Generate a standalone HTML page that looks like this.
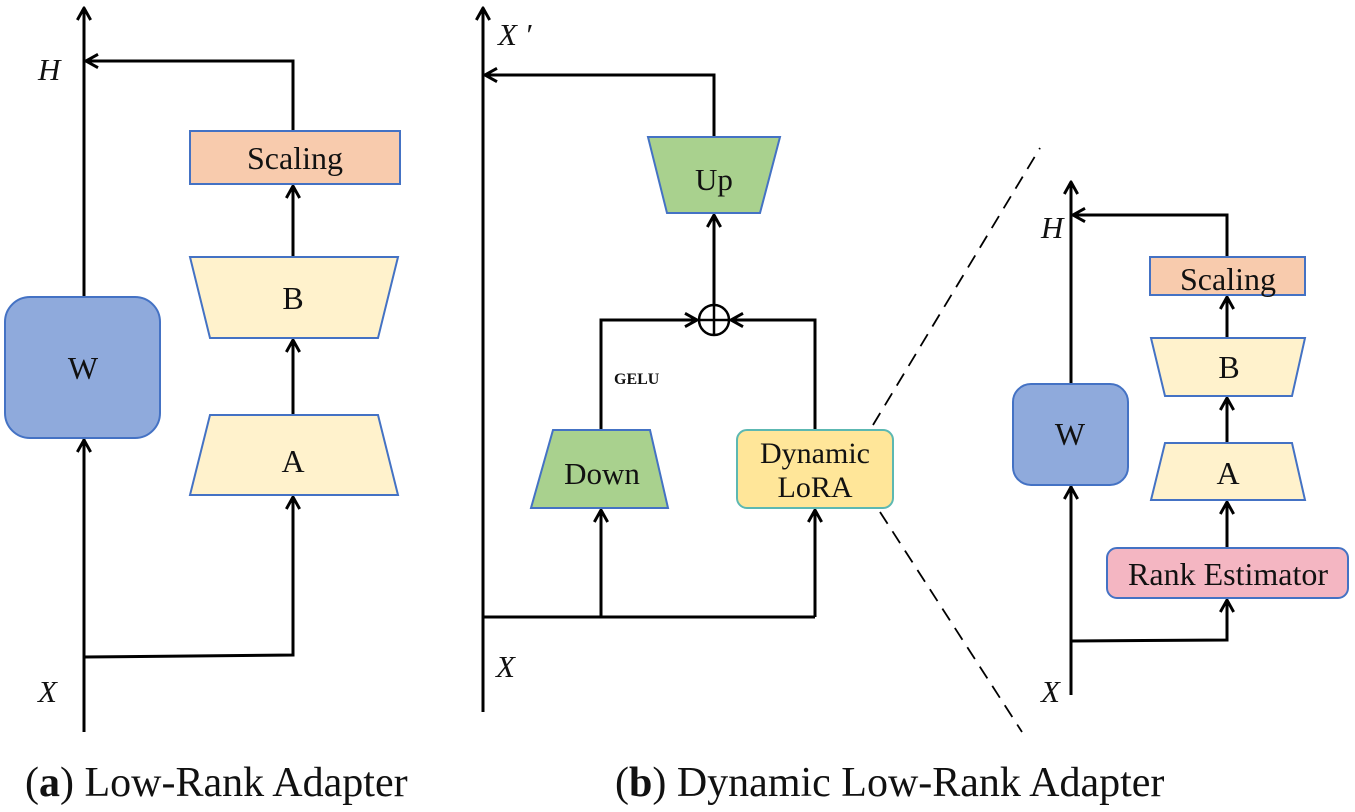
<!DOCTYPE html>
<html><head><style>body{margin:0;background:#fff}svg{display:block}</style></head><body>
<svg width="1355" height="812" viewBox="0 0 1355 812" xmlns="http://www.w3.org/2000/svg" font-family="Liberation Serif, serif">
<defs>
<marker id="a" viewBox="0 0 12 12" refX="11" refY="6" markerWidth="16" markerHeight="16" markerUnits="userSpaceOnUse" orient="auto">
<path d="M2,1 L11,6 L2,11" fill="none" stroke="#000" stroke-width="2.2"/>
</marker>
</defs>
<g stroke="#000" stroke-width="3" fill="none">
<line x1="84" y1="732" x2="84" y2="8" marker-end="url(#a)"/>
<polyline points="293,131 293,61 86,61" marker-end="url(#a)"/>
<line x1="293" y1="257" x2="293" y2="186" marker-end="url(#a)"/>
<line x1="293" y1="415" x2="293" y2="340" marker-end="url(#a)"/>
<polyline points="84,657 293,655 293,497" marker-end="url(#a)"/>
<line x1="84" y1="600" x2="84" y2="440" marker-end="url(#a)"/>
<line x1="483" y1="712" x2="483" y2="8" marker-end="url(#a)"/>
<polyline points="714,137 714,75 485,75" marker-end="url(#a)"/>
<line x1="714" y1="304" x2="714" y2="215" marker-end="url(#a)"/>
<polyline points="601,430 601,320 697,320" marker-end="url(#a)"/>
<polyline points="815,430 815,320 731,320" marker-end="url(#a)"/>
<line x1="483" y1="617" x2="815" y2="617"/>
<line x1="601" y1="617" x2="601" y2="510" marker-end="url(#a)"/>
<line x1="815" y1="617" x2="815" y2="510" marker-end="url(#a)"/>
<line x1="1071" y1="695" x2="1071" y2="182" marker-end="url(#a)"/>
<polyline points="1227,257 1227,215 1073,215" marker-end="url(#a)"/>
<line x1="1227" y1="338" x2="1227" y2="297" marker-end="url(#a)"/>
<line x1="1227" y1="443" x2="1227" y2="398" marker-end="url(#a)"/>
<line x1="1227" y1="548" x2="1227" y2="502" marker-end="url(#a)"/>
<polyline points="1071,641 1227,640 1227,600" marker-end="url(#a)"/>
<line x1="1071" y1="600" x2="1071" y2="487" marker-end="url(#a)"/>
</g>
<g stroke="#000" stroke-width="1.8" stroke-dasharray="14,9">
<line x1="873" y1="425" x2="1040" y2="148"/>
<line x1="880" y1="512" x2="1022" y2="732"/>
</g>
<g stroke="#4472c4" stroke-width="2">
<rect x="190" y="131" width="210" height="53" fill="#f8cbad"/>
<polygon points="190,257 398,257 378,338 210,338" fill="#fff2cc"/>
<polygon points="210,415 378,415 398,495 190,495" fill="#fff2cc"/>
<rect x="5" y="297" width="155" height="141" rx="25" fill="#8faadc"/>
<polygon points="648,137 780,137 760,213 667,213" fill="#a9d18e"/>
<polygon points="553,430 650,430 668,508 531,508" fill="#a9d18e"/>
<rect x="737" y="430" width="156" height="78" rx="10" fill="#ffe699" stroke="#5cb8b2"/>
<rect x="1150" y="257" width="155" height="38" fill="#f8cbad"/>
<polygon points="1151,338 1305,338 1292,396 1165,396" fill="#fff2cc"/>
<polygon points="1165,443 1292,443 1305,500 1151,500" fill="#fff2cc"/>
<rect x="1107" y="548" width="241" height="50" rx="10" fill="#f4b6c2"/>
<rect x="1013" y="384" width="115" height="101" rx="18" fill="#8faadc"/>
</g>
<circle cx="714" cy="320" r="15" fill="#fff" stroke="#000" stroke-width="2.5"/>
<line x1="699" y1="320" x2="729" y2="320" stroke="#000" stroke-width="2.5"/>
<line x1="714" y1="305" x2="714" y2="335" stroke="#000" stroke-width="2.5"/>
<g fill="#111" font-size="32" text-anchor="middle">
<text x="295" y="169">Scaling</text>
<text x="293" y="309">B</text>
<text x="293" y="472">A</text>
<text x="83" y="379">W</text>
<text x="714" y="190" font-size="31">Up</text>
<text x="602" y="484" font-size="31">Down</text>
<text x="815" y="463" font-size="30">Dynamic</text>
<text x="815" y="497" font-size="30">LoRA</text>
<text x="1228" y="290">Scaling</text>
<text x="1229" y="378">B</text>
<text x="1228" y="484">A</text>
<text x="1228" y="585">Rank Estimator</text>
<text x="1070" y="445">W</text>
</g>
<g fill="#111" font-size="31" font-style="italic">
<text x="38" y="80">H</text>
<text x="38" y="702">X</text>
<text x="498" y="45">X ′</text>
<text x="496" y="677">X</text>
<text x="1041" y="238">H</text>
<text x="1041" y="702">X</text>
</g>
<text x="614" y="384" font-size="16" font-weight="bold" fill="#111">GELU</text>
<g fill="#111" font-size="42">
<text x="25" y="796">(<tspan font-weight="bold">a</tspan>) Low-Rank Adapter</text>
<text x="615" y="796">(<tspan font-weight="bold">b</tspan>) Dynamic Low-Rank Adapter</text>
</g>
</svg>
</body></html>
